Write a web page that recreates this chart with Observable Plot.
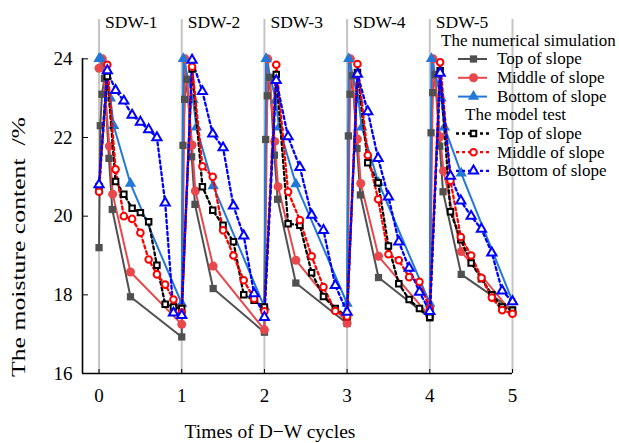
<!DOCTYPE html>
<html>
<head>
<meta charset="utf-8">
<script src="https://cdn.jsdelivr.net/npm/d3@7"></script>
<script src="https://cdn.jsdelivr.net/npm/@observablehq/plot@0.6"></script>
<style>
  html, body { margin: 0; padding: 0; background: #fff; }
  #chart svg { display: block; }
</style>
</head>
<body>
<div id="chart"></div>
<script>
// Drying–wetting cycles: moisture content (%) at three slope positions
const cycleTicks = [0, 1, 2, 3, 4, 5];
const cycleNames = ["SDW-1", "SDW-2", "SDW-3", "SDW-4", "SDW-5"];
const yTicks = [16, 18, 20, 22, 24];

// Numerical simulation — top of slope
const simTopX = [0, 0.015, 0.035, 0.065, 0.12, 0.16, 0.38,
  1, 1.015, 1.035, 1.065, 1.12, 1.16, 1.38,
  2, 2.015, 2.035, 2.065, 2.12, 2.16, 2.38,
  3, 3.015, 3.035, 3.065, 3.12, 3.16, 3.38,
  4, 4.015, 4.035, 4.065, 4.12, 4.16, 4.38,
  5];
const simTopY = [19.2, 22.3, 23.1, 23.5, 21.47, 20.17, 17.95,
  16.93, 21.8, 22.97, 23.48, 21.51, 20.3, 18.16,
  17.05, 21.95, 23.06, 23.53, 21.55, 20.43, 18.3,
  17.27, 22.04, 23.1, 23.57, 21.72, 20.54, 18.44,
  17.41, 22.12, 23.14, 23.6, 21.78, 20.62, 18.52,
  17.62];

// Numerical simulation — middle of slope
const simMidX = [0, 0.04, 0.125, 0.165, 0.38,
  1, 1.04, 1.125, 1.165, 1.38,
  2, 2.04, 2.125, 2.165, 2.38,
  3, 3.04, 3.125, 3.165, 3.38,
  4, 4.04, 4.125, 4.165, 4.38,
  5];
const simMidY = [23.76, 24.0, 21.78, 20.56, 18.58,
  17.25, 24.0, 21.81, 20.64, 18.73,
  17.11, 24.0, 21.9, 20.75, 18.88,
  17.28, 24.0, 21.96, 20.83, 18.98,
  17.45, 24.0, 22.02, 21.15, 19.1,
  17.54];

// Numerical simulation — bottom of slope
const simBotX = [0, 0.02, 0.137, 0.177, 0.38,
  1, 1.02, 1.137, 1.177, 1.38,
  2, 2.02, 2.137, 2.177, 2.38,
  3, 3.02, 3.137, 3.177, 3.38,
  4, 4.02, 4.137, 4.177, 4.38,
  5];
const simBotY = [24.0, 24.0, 23.0, 22.3, 20.83,
  17.78, 24.0, 22.96, 22.26, 20.77,
  17.69, 24.0, 22.95, 22.26, 20.82,
  17.78, 24.0, 22.96, 22.26, 20.85,
  17.78, 24.0, 23.0, 22.26, 21.09,
  17.84];

// Model test sampling times
const testX = [0, 0.1, 0.2, 0.3, 0.4, 0.5, 0.6, 0.7, 0.8, 0.9, 1,
  1.125, 1.25, 1.375, 1.5, 1.625, 1.75, 1.875, 2,
  2.143, 2.286, 2.429, 2.571, 2.714, 2.857, 3,
  3.125, 3.25, 3.375, 3.5, 3.625, 3.75, 3.875, 4,
  4.125, 4.25, 4.375, 4.5, 4.625, 4.75, 4.875, 5];
const testTopY = [20.75, 23.55, 20.88, 20.56, 20.2, 20.09, 19.86, 18.75, 17.76, 17.69, 17.65,
  23.74, 20.75, 20.15, 19.77, 19.35, 18.0, 17.86, 17.69,
  23.6, 19.81, 19.77, 18.56, 17.96, 17.65, 17.45,
  23.65, 21.36, 20.85, 19.24, 18.28, 17.88, 17.65, 17.43,
  23.7, 20.11, 19.4, 18.81, 18.41, 18.0, 17.69, 17.61];
const testMidY = [20.62, 23.85, 21.19, 20.0, 19.93, 19.58, 18.9, 18.52, 18.26, 17.88, 17.55,
  23.8, 21.27, 21.0, 19.64, 19.0, 18.37, 17.9, 17.58,
  23.85, 20.62, 19.9, 18.98, 18.2, 17.59, 17.45,
  23.87, 21.55, 20.43, 19.03, 18.88, 18.45, 18.33, 17.65,
  23.91, 20.9, 19.47, 19.0, 18.43, 17.93, 17.61, 17.52];
const testBotY = [20.8, 23.7, 23.2, 22.93, 22.57, 22.39, 22.2, 22.0, 20.34, 17.54, 17.48,
  23.97, 23.17, 22.09, 21.74, 20.26, 19.5, 18.03, 17.43,
  23.45, 22.02, 21.24, 20.03, 19.64, 18.24, 17.56,
  23.61, 22.66, 21.47, 20.49, 19.35, 18.68, 18.07, 17.58,
  23.64, 21.02, 20.39, 20.0, 19.67, 19.07, 18.1, 17.83];

const FONT = "'Liberation Serif', 'Times New Roman', serif";
const rows = (xs, ys) => xs.map((x, i) => ({x, y: ys[i]}));

// Series styles (shared with the legend)
const simSeries = [
  {label: "Top of slope", x: simTopX, y: simTopY, color: "#505050", symbol: "square", r: 4.1},
  {label: "Middle of slope", x: simMidX, y: simMidY, color: "#e8474b", symbol: "circle", r: 4.5},
  {label: "Bottom of slope", x: simBotX, y: simBotY, color: "#2278d8", symbol: "triangle", r: 4.2}
];
const testSeries = [
  {label: "Top of slope", x: testX, y: testTopY, color: "#000000", symbol: "square", r: 3.1},
  {label: "Middle of slope", x: testX, y: testMidY, color: "#ff0000", symbol: "circle", r: 3.3},
  {label: "Bottom of slope", x: testX, y: testBotY, color: "#0000ff", symbol: "triangle", r: 3.4}
];
const DASH = "3,3";

const marks = [
  // light vertical guides at each cycle boundary
  Plot.ruleX(cycleTicks, {y1: 16, y2: 25, stroke: "#c4c4c4", strokeWidth: 2}),
  // axis lines
  Plot.ruleY([16], {stroke: "#000", strokeWidth: 1.6}),
  Plot.ruleX([-0.2], {y1: 16, y2: 24, stroke: "#000", strokeWidth: 1.6}),
  Plot.axisX({ticks: cycleTicks, tickSize: -4, tickPadding: 19, tickFormat: d => String(d), label: null, fontSize: 19}),
  Plot.axisY({ticks: yTicks, tickSize: -6, tickPadding: 16, label: null, fontSize: 19}),
  // cycle names
  Plot.text(cycleNames, {x: (d, i) => cycleTicks[i], y: 25, text: d => d, textAnchor: "start", lineAnchor: "middle", dx: 6, dy: 3, fontSize: 17.5})
];

for (const s of simSeries) {
  marks.push(Plot.line(rows(s.x, s.y), {x: "x", y: "y", stroke: s.color, strokeWidth: 2}));
}
for (const s of simSeries) {
  marks.push(Plot.dot(rows(s.x, s.y), {x: "x", y: "y", symbol: s.symbol, r: s.r, fill: s.color, stroke: "none"}));
}
for (const s of testSeries) {
  marks.push(Plot.line(rows(s.x, s.y), {x: "x", y: "y", stroke: s.color, strokeWidth: 2.3, strokeDasharray: DASH}));
}
for (const s of testSeries) {
  marks.push(Plot.dot(rows(s.x, s.y), {x: "x", y: "y", symbol: s.symbol, r: s.r, fill: "#fff", stroke: s.color, strokeWidth: 2}));
}

const chart = Plot.plot({
  width: 619,
  height: 443,
  marginLeft: 82,
  marginRight: 107,
  marginTop: 19,
  marginBottom: 70,
  x: {domain: [-0.2, 5]},
  y: {domain: [16, 25]},
  style: {fontFamily: FONT, fontSize: "19px", background: "#fff", color: "#000", overflow: "visible"},
  marks
});

const svg = d3.select(chart);

// Axis titles
svg.append("text")
  .attr("x", 270).attr("y", 432).attr("dy", "0.32em")
  .attr("text-anchor", "middle").attr("font-family", FONT).attr("font-size", 19.5)
  .text("Times of D\u2212W cycles");
svg.append("text")
  .attr("transform", "translate(19,247) rotate(-90)").attr("dy", "0.32em")
  .attr("text-anchor", "middle").attr("font-family", FONT).attr("font-size", 19)
  .attr("textLength", 260).attr("lengthAdjust", "spacingAndGlyphs")
  .text("The moisture content\u00a0 /%");

// Legend in the upper right corner
const lg = svg.append("g").attr("font-family", FONT).attr("font-size", 17)
  .attr("fill", "#000").attr("text-anchor", "start");
const symbolType = {square: d3.symbolSquare, circle: d3.symbolCircle, triangle: d3.symbolTriangle};
function entry(s, y, dashed) {
  const x0 = dashed ? 456 : 458, x1 = dashed ? 492 : 487, xm = 473.5;
  lg.append("line").attr("x1", x0).attr("x2", x1).attr("y1", y).attr("y2", y)
    .attr("stroke", s.color).attr("stroke-width", dashed ? 2.3 : 2)
    .attr("stroke-dasharray", dashed ? DASH : null);
  lg.append("path").attr("transform", `translate(${xm},${y})`)
    .attr("d", d3.symbol(symbolType[s.symbol], Math.PI * s.r * s.r)())
    .attr("fill", dashed ? "#fff" : s.color)
    .attr("stroke", dashed ? s.color : "none").attr("stroke-width", 2);
  lg.append("text").attr("x", 497).attr("y", y).attr("dy", "0.32em").text(s.label);
}
lg.append("text").attr("x", 441).attr("y", 41).attr("dy", "0.32em").text("The numerical simulation");
simSeries.forEach((s, i) => entry(s, 59 + i * 18.8, false));
lg.append("text").attr("x", 465).attr("y", 115).attr("dy", "0.32em").text("The model test");
testSeries.forEach((s, i) => entry(s, 133.5 + i * 18.7, true));

document.getElementById("chart").append(chart);
</script>
</body>
</html>
